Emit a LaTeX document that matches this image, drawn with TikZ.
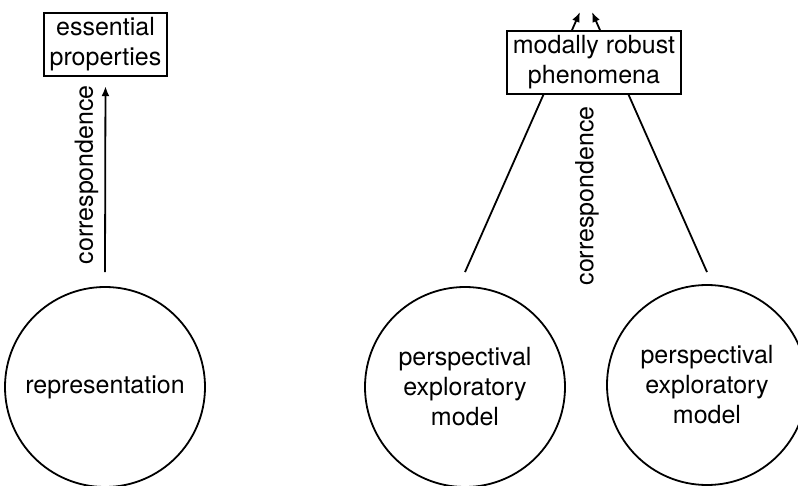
\documentclass[tikz,border=0pt]{standalone}
\usepackage{fontspec}
\setmainfont{TeX Gyre Heros}
\usetikzlibrary{arrows.meta,positioning}

\begin{document}
\begin{tikzpicture}[>={Latex[length=10pt,width=8pt]},x=1pt,y=-1pt,line width=1.8pt,font=\fontsize{25}{30}\selectfont]
	\tikzset{vertex/.style = {shape=circle,draw,minimum size=200pt,inner sep=0pt,align=center}}
	\tikzset{prop/.style = {shape=rectangle,draw,fill=white,align=center,inner xsep=6pt,inner ysep=5pt}}
	\tikzset{corr/.style = {rotate=90,inner sep=6pt}}
	\tikzset{edge/.style = {->}}
	\useasboundingbox (0,0) rectangle (798,486);
	% vertices
	\node[vertex] (rep) at (105,387) {representation};
	\node[vertex] (pemA) at (465,387) {perspectival\\exploratory\\model};
	\node[vertex] (pemB) at (707,385) {perspectival\\exploratory\\model};
	\node[prop] (ess) at (105.5,44.5) {essential\\properties};
	\coordinate (tipA) at (580,12);
	\coordinate (tipB) at (592,12);
	%edges
	\draw[edge,shorten >=9pt] ([yshift=14pt]rep.north) -- node[corr,midway,anchor=south] {correspondence} (ess.south);
	\draw[edge] ([yshift=14pt]pemA.north) -- (tipA);
	\draw[edge] ([yshift=12pt]pemB.north) -- (tipB);
	\node[prop] (mrp) at (594,62.5) {modally robust\\phenomena};
	\node[corr] (corrB) at (587,196) {correspondence};
\end{tikzpicture}
\end{document}
